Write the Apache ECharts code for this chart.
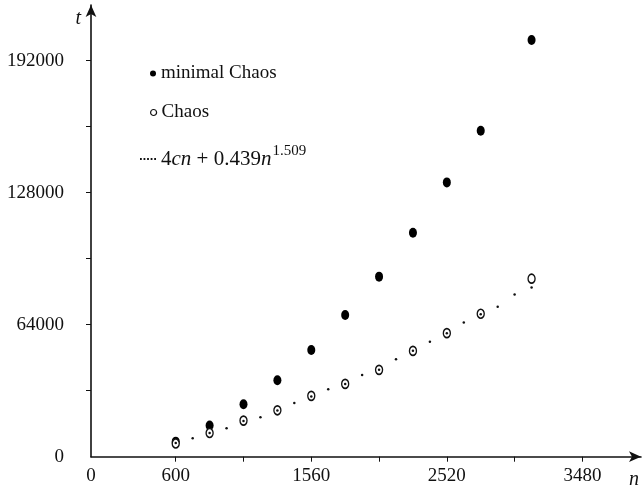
<!DOCTYPE html>
<html lang="en">
<head>
    <meta charset="UTF-8">
    <title>Chaos</title>
    <style>
        html, body { margin: 0; padding: 0; background: #fff; }
        #main { width: 642px; height: 500px; }
    </style>
    <script src="https://cdn.jsdelivr.net/npm/echarts@6/dist/echarts.min.js"></script>
</head>
<body>
<div id="main"></div>
<script type="text/javascript">
    // problem size n of the measured runs
    var nValues = [600, 840, 1080, 1320, 1560, 1800, 2040, 2280, 2520, 2760, 3120];
    var minimalChaos = [7300, 15100, 25400, 37100, 51700, 68700, 87300, 108600, 133000, 158000, 202000];
    var chaos = [6400, 11500, 17500, 22500, 29500, 35300, 42100, 51300, 59900, 69300, 86300];

    // dotted fit curve, read dot by dot
    var curveN = [600, 720, 840, 960, 1080, 1200, 1320, 1440, 1560, 1680, 1800,
        1920, 2040, 2160, 2280, 2400, 2520, 2640, 2760, 2880, 3000, 3120];
    var curveT = [6650, 8930, 11500, 13790, 17300, 19130, 22430, 26080, 29230, 32730, 35300,
        39670, 42100, 47300, 51330, 55700, 59820, 65070, 69050, 72700, 78670, 82060];

    var xTicks = [600, 1080, 1560, 2040, 2520, 3000, 3480];
    var xLabels = [0, 600, 1560, 2520, 3480];
    var yTicks = [32000, 64000, 96000, 128000, 160000, 192000];
    var yLabels = [0, 64000, 128000, 192000];

    var fitName = '4cn + 0.439n^1.509';
    var font = '"Liberation Serif", "DejaVu Serif", serif';

    function pairs(xs, ys) {
        var out = [];
        for (var i = 0; i < xs.length; i++) {
            out.push([xs[i], ys[i]]);
        }
        return out;
    }

    // plain numbers, no thousands separator
    function plain(v) {
        return String(v);
    }

    var myChart = echarts.init(document.getElementById('main'));

    var legendText = { fontFamily: font, fontSize: 19, color: '#111' };

    option = {
        animation: false,
        grid: { left: 91, right: 0.5, top: 5, bottom: 43.3 },
        legend: [
            {
                data: ['minimal Chaos'],
                left: 150, top: 64, padding: 0,
                icon: 'circle', itemWidth: 6, itemHeight: 7, itemGap: 0,
                textStyle: legendText
            },
            {
                data: ['Chaos'],
                left: 150, top: 103, padding: 0,
                icon: 'circle', itemWidth: 6, itemHeight: 7, itemGap: 0,
                itemStyle: { color: '#fff', borderColor: '#111', borderWidth: 1.2 },
                textStyle: legendText
            },
            {
                data: [{
                    name: fitName,
                    icon: 'path://M0,0h2v2h-2zM4,0h2v2h-2zM8,0h2v2h-2zM12,0h2v2h-2zM16,0h2v2h-2z'
                }],
                left: 140, top: 144, padding: 0,
                itemWidth: 16, itemHeight: 2, itemGap: 0,
                itemStyle: { color: '#111' },
                formatter: function () {
                    return '4{i|cn} + 0.439{i|n}{sup|1.509}';
                },
                textStyle: {
                    fontFamily: font, fontSize: 21, color: '#111',
                    rich: {
                        i: { fontFamily: font, fontSize: 21, fontStyle: 'italic', color: '#111' },
                        sup: { fontFamily: font, fontSize: 15, color: '#111', padding: [0, 0, 15, 1] }
                    }
                }
            }
        ],
        xAxis: {
            type: 'value',
            min: 0,
            max: 3895,
            name: 'n',
            nameLocation: 'end',
            nameGap: -2,
            nameTextStyle: {
                fontFamily: font, fontSize: 20, fontStyle: 'italic', color: '#111',
                align: 'right', verticalAlign: 'top', padding: [13, 0, 0, 0]
            },
            axisLine: {
                show: true,
                symbol: ['none', 'arrow'],
                symbolSize: [8, 12],
                lineStyle: { color: '#111', width: 1.6 }
            },
            axisTick: {
                show: true, inside: false, length: 5,
                customValues: xTicks,
                lineStyle: { color: '#111', width: 1 }
            },
            axisLabel: {
                customValues: xLabels,
                margin: 10,
                formatter: plain,
                fontFamily: font, fontSize: 19, color: '#111'
            },
            splitLine: { show: false }
        },
        yAxis: {
            type: 'value',
            min: 0,
            max: 219000,
            name: 't',
            nameLocation: 'end',
            nameGap: -24,
            nameTextStyle: {
                fontFamily: font, fontSize: 20, fontStyle: 'italic', color: '#111',
                align: 'right', padding: [0, 10, 0, 0]
            },
            axisLine: {
                show: true,
                symbol: ['none', 'arrow'],
                symbolSize: [8, 12],
                lineStyle: { color: '#111', width: 1.6 }
            },
            axisTick: {
                show: true, inside: false, length: 5,
                customValues: yTicks,
                lineStyle: { color: '#111', width: 1 }
            },
            axisLabel: {
                customValues: yLabels,
                margin: 27,
                formatter: plain,
                padding: [6, 0, 0, 0],
                fontFamily: font, fontSize: 19, color: '#111'
            },
            splitLine: { show: false }
        },
        series: [
            {
                name: 'minimal Chaos',
                type: 'scatter',
                symbol: 'circle',
                symbolSize: [8, 10],
                itemStyle: { color: '#000', opacity: 1 },
                data: pairs(nValues, minimalChaos)
            },
            {
                name: 'Chaos',
                type: 'scatter',
                symbol: 'circle',
                symbolSize: [7, 9],
                itemStyle: { color: '#fff', borderColor: '#111', borderWidth: 1.5, opacity: 1 },
                data: pairs(nValues, chaos)
            },
            {
                name: fitName,
                type: 'scatter',
                symbol: 'circle',
                symbolSize: 2.5,
                itemStyle: { color: '#111', opacity: 1 },
                data: pairs(curveN, curveT)
            }
        ]
    };
    myChart.setOption(option);
</script>
</body>
</html>
